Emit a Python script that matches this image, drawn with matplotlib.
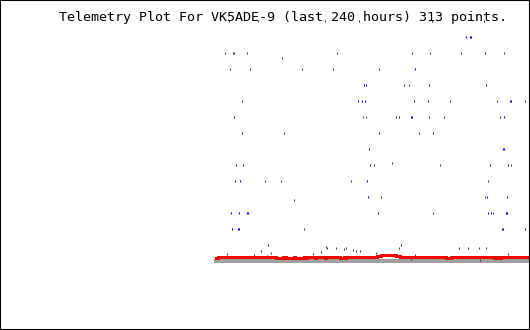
import numpy as np
import matplotlib.pyplot as plt

# x = sample number (0..312), y = value
blue_x = [13, 143, 216, 268,
          250, 254, 255,
          269,
          199,
          148, 150, 213, 270,
          142, 146, 149, 198, 212, 294, 295,
          18, 183, 195, 196, 288,
          26, 163, 217,
          153, 287, 288,
          20, 27, 154, 274, 292,
          19, 24, 151,
          152, 271, 291,
          15, 23, 31, 32, 162, 272, 275, 290, 291,
          16, 22, 23, 286, 287, 309,
          52, 185]
blue_y = [15, 15, 15, 15,
          14, 14, 14,
          13,
          12,
          11, 11, 11, 11,
          10, 10, 10, 10, 10, 10, 10,
          9, 9, 9, 9, 9,
          8, 8, 8,
          7, 7, 7,
          6, 6, 6, 6, 6,
          5, 5, 5,
          4, 4, 4,
          3, 3, 3, 3, 3, 3, 3, 3, 3,
          2, 2, 2, 2, 2, 2,
          1, 1]

dark_x = [42, 109,
          9, 17, 18, 31, 121, 196, 214, 245, 288,
          66,
          14, 34, 86, 117, 163,
          188, 193,
          26, 234, 281, 309,
          147, 150, 180, 213, 228, 284,
          68, 203,
          176,
          158, 224, 295,
          49, 65, 135, 272,
          165, 269,
          78,
          217, 277,
          88,
          11, 38, 45, 55, 51, 97, 105, 110, 111, 120, 128, 130, 137, 140,
          144, 160, 183, 199, 195, 243, 252, 263, 264, 270, 292]
dark_y = [15, 15,
          13, 13, 13, 13, 13, 13, 13, 13, 13,
          12.7,
          12, 12, 12, 12, 12,
          11, 11,
          10, 10, 10, 10,
          9, 9, 9, 9, 9, 9,
          8, 8,
          6.1,
          6, 6, 6,
          5, 5, 5, 5,
          4, 4,
          3.8,
          3, 3,
          2,
          0.44, 0.38, 0.62, 0.5, 0.31, 0.44, 0.56, 0.88, 0.81, 0.81, 0.75, 0.81, 0.69, 0.62,
          0.62, 0.5, 0.81, 0.38, 0.12, 0.81, 0.81, 0.81, 0.06, 0.81, 0.44]

# red trace, run-length: start sample and value
red_start = [0, 2, 60, 67, 70, 78, 79, 88, 90, 91, 99, 100, 109, 110, 124, 128,
             129, 130, 161, 165, 180, 184, 230, 235, 278, 281, 283, 285, 313]
red_val = [0.16, 0.24, 0.16, 0.24, 0.16, 0.24, 0.16, 0.24, 0.16, 0.24, 0.16, 0.24,
           0.16, 0.24, 0.16, 0.24, 0.16, 0.24, 0.31, 0.37, 0.31, 0.24, 0.16, 0.24,
           0.16, 0.24, 0.16, 0.24, 0.24]

fig = plt.figure(figsize=(5.3, 3.3), dpi=100)
ax = fig.add_axes([0, 0, 1, 1])

ax.plot([0, 313], [0, 0], color='#a0a0a0', lw=1.45, antialiased=False)
ax.plot(dark_x, dark_y, ls='none', marker='|', ms=1.5, mew=0.75,
        color='#404040', antialiased=False)
ax.plot(blue_x, blue_y, ls='none', marker='|', ms=1.5, mew=0.75,
        color='#0000ff', antialiased=False)
ax.step(red_start, red_val, where='post', color='#ff0000', lw=2.0, antialiased=False)

ax.set_xlim(-216, 314)
ax.set_ylim(-4.31, 16.31)
ax.set_xticks([])
ax.set_yticks([])
for s in ax.spines.values():
    s.set_linewidth(1.5)
    s.set_color('black')

fig.text(283 / 530, 1 - 21.5 / 330, 'Telemetry Plot For VK5ADE-9 (last 240 hours) 313 points.',
         ha='center', va='baseline', family='DejaVu Sans Mono', fontsize=9.6)

fig.savefig('out.png', dpi=100)
